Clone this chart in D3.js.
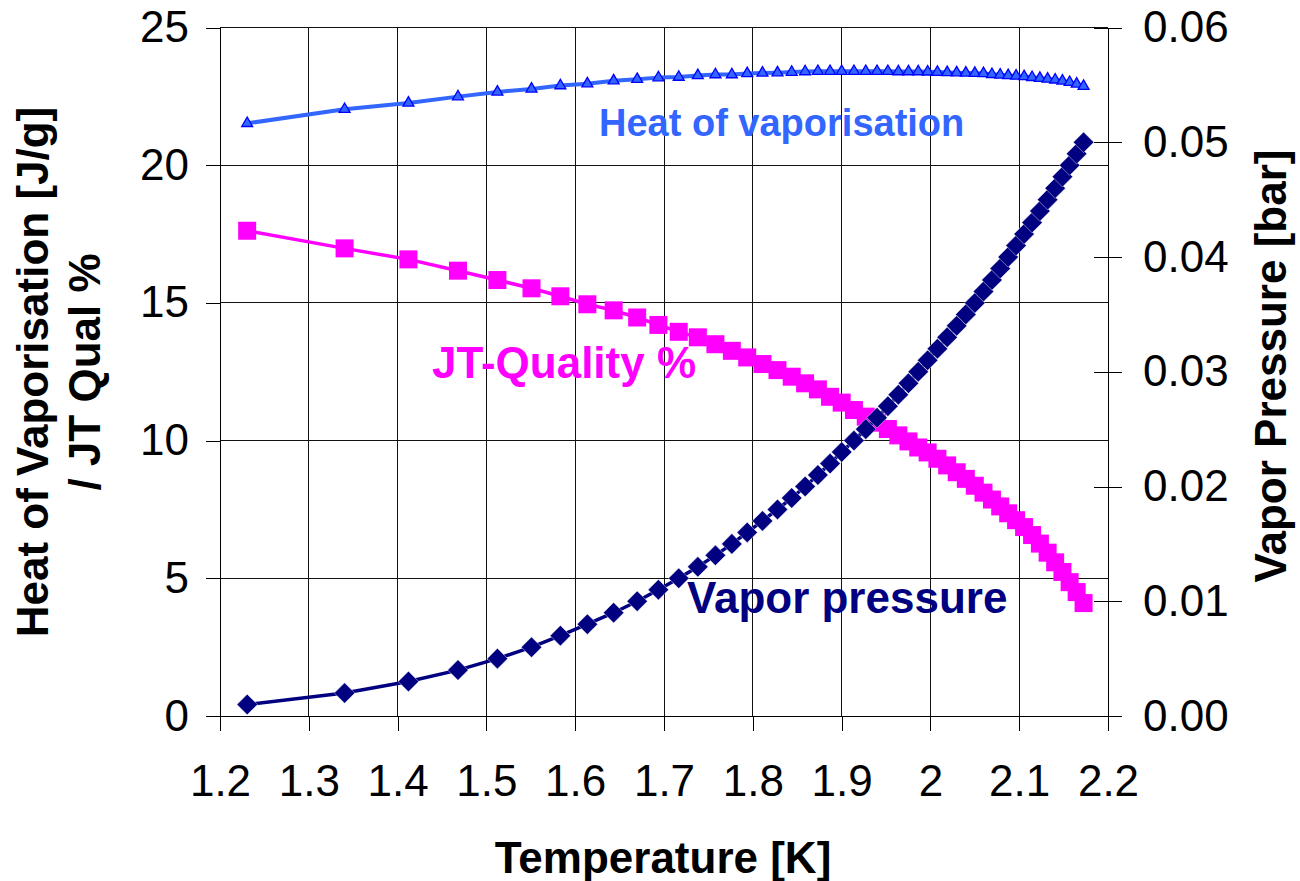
<!DOCTYPE html>
<html>
<head>
<meta charset="utf-8">
<script src="https://cdn.jsdelivr.net/npm/d3@7"></script>
<style>
  html, body { margin: 0; padding: 0; background: #fff; }
  svg { display: block; }
  text { font-family: "Liberation Sans", Arial, Helvetica, sans-serif; }
</style>
</head>
<body>
<script>
// Saturated liquid helium-4: temperature [K] at each vapour-pressure step
const temperature = [1.2306, 1.3403, 1.4122, 1.4680, 1.5124, 1.5508, 1.5833, 1.6137, 1.6433, 1.6698,
  1.6937, 1.7166, 1.7381, 1.7579, 1.7764, 1.7937, 1.8109, 1.8278, 1.8438, 1.8589,
  1.8733, 1.8870, 1.9001, 1.9139, 1.9272, 1.9399, 1.9521, 1.9639, 1.9753, 1.9863,
  1.9969, 2.0079, 2.0189, 2.0296, 2.0399, 2.0500, 2.0598, 2.0693, 2.0786, 2.0876,
  2.0965, 2.1055, 2.1145, 2.1233, 2.1320, 2.1405, 2.1487, 2.1568, 2.1647, 2.1725];

// Vapour pressure [bar] (right axis)
const vaporPressure = [0.001, 0.002, 0.003, 0.004, 0.005, 0.006, 0.007, 0.008, 0.009, 0.010,
  0.011, 0.012, 0.013, 0.014, 0.015, 0.016, 0.017, 0.018, 0.019, 0.020,
  0.021, 0.022, 0.023, 0.024, 0.025, 0.026, 0.027, 0.028, 0.029, 0.030,
  0.031, 0.032, 0.033, 0.034, 0.035, 0.036, 0.037, 0.038, 0.039, 0.040,
  0.041, 0.042, 0.043, 0.044, 0.045, 0.046, 0.047, 0.048, 0.049, 0.050];

// Heat of vaporisation [J/g] (left axis)
const heatOfVaporisation = [21.52, 22.03, 22.26, 22.49, 22.66, 22.77, 22.89, 22.96, 23.07, 23.12,
  23.18, 23.20, 23.26, 23.29, 23.29, 23.33, 23.35, 23.36, 23.38, 23.40,
  23.41, 23.41, 23.41, 23.41, 23.41, 23.41, 23.41, 23.40, 23.40, 23.40,
  23.39, 23.38, 23.37, 23.36, 23.35, 23.34, 23.33, 23.30, 23.28, 23.26,
  23.24, 23.22, 23.19, 23.16, 23.13, 23.10, 23.06, 23.01, 22.95, 22.87];

// Joule-Thomson expansion quality [%] (left axis)
const jtQuality = [17.62, 16.98, 16.58, 16.17, 15.83, 15.53, 15.24, 14.95, 14.73, 14.47,
  14.20, 13.95, 13.75, 13.50, 13.26, 13.02, 12.78, 12.56, 12.32, 12.08,
  11.86, 11.59, 11.38, 11.11, 10.87, 10.65, 10.42, 10.19, 9.97, 9.75,
  9.57, 9.34, 9.10, 8.85, 8.61, 8.36, 8.11, 7.86, 7.61, 7.36,
  7.11, 6.86, 6.57, 6.26, 5.93, 5.58, 5.23, 4.86, 4.50, 4.10];

// Axis ticks and labels
const xTicks = [1.2, 1.3, 1.4, 1.5, 1.6, 1.7, 1.8, 1.9, 2.0, 2.1, 2.2];
const xTickLabels = ["1.2", "1.3", "1.4", "1.5", "1.6", "1.7", "1.8", "1.9", "2", "2.1", "2.2"];
const leftTicks = [0, 5, 10, 15, 20, 25];
const rightTicks = [0, 0.01, 0.02, 0.03, 0.04, 0.05, 0.06];
const rightTickLabels = ["0.00", "0.01", "0.02", "0.03", "0.04", "0.05", "0.06"];

const W = 1300, H = 881;
const plot = { left: 220, right: 1108, top: 27.5, bottom: 716 };

const svg = d3.select("body").append("svg").attr("width", W).attr("height", H);

const x = d3.scaleLinear().domain([1.2, 2.2]).range([plot.left, plot.right]);
const yL = d3.scaleLinear().domain([0, 25]).range([plot.bottom, plot.top]);
const yR = d3.scaleLinear().domain([0, 0.06]).range([plot.bottom, plot.top]);

// gridlines
const grid = svg.append("g").attr("shape-rendering", "crispEdges");
grid.selectAll("line.v").data(xTicks.slice(1, -1)).join("line")
  .attr("x1", d => x(d)).attr("x2", d => x(d))
  .attr("y1", yL(25)).attr("y2", yL(0))
  .attr("stroke", "#111").attr("stroke-width", 1);
grid.selectAll("line.h").data(leftTicks.slice(1)).join("line")
  .attr("x1", plot.left).attr("x2", plot.right)
  .attr("y1", d => yL(d)).attr("y2", d => yL(d))
  .attr("stroke", "#111").attr("stroke-width", 1);

const tickFont = 44;

// bottom axis
const gx = svg.append("g").attr("transform", `translate(0,${plot.bottom})`)
  .call(d3.axisBottom(x).tickValues(xTicks)
    .tickFormat((d, i) => xTickLabels[i])
    .tickSize(15).tickSizeOuter(0).tickPadding(34));
// left axis
const gl = svg.append("g").attr("transform", `translate(${plot.left},0)`)
  .call(d3.axisLeft(yL).tickValues(leftTicks)
    .tickSize(14).tickSizeOuter(0).tickPadding(17));
// right axis, cross ticks
const gr = svg.append("g").attr("transform", `translate(${plot.right},0)`)
  .call(d3.axisRight(yR).tickValues(rightTicks)
    .tickFormat((d, i) => rightTickLabels[i])
    .tickSize(14).tickSizeOuter(0).tickPadding(21));
gr.selectAll(".tick line").attr("x1", -14);

[gx, gl, gr].forEach(g => {
  g.attr("shape-rendering", "crispEdges");
  g.select(".domain").attr("stroke", "#000").attr("stroke-width", 1.5);
  g.selectAll(".tick line").attr("stroke", "#000").attr("stroke-width", 1);
  g.selectAll(".tick text")
    .attr("fill", "#000")
    .style("font-family", '"Liberation Sans", Arial, sans-serif')
    .style("font-size", tickFont + "px");
});

// series
const rows = temperature.map((t, i) => ({
  t, p: vaporPressure[i], hov: heatOfVaporisation[i], jt: jtQuality[i]
}));

const clr = { hov: "#3366FF", hovEdge: "#0000FF", jt: "#FF00FF", vp: "#000080" };

// heat of vaporisation
svg.append("path").datum(rows)
  .attr("fill", "none").attr("stroke", clr.hov).attr("stroke-width", 4)
  .attr("stroke-linejoin", "round")
  .attr("d", d3.line().x(d => x(d.t)).y(d => yL(d.hov)));
svg.append("g").selectAll("path").data(rows).join("path")
  .attr("transform", d => `translate(${x(d.t)},${yL(d.hov)})`)
  .attr("d", d3.symbol(d3.symbolTriangle, 52))
  .attr("fill", clr.hov).attr("stroke", clr.hovEdge).attr("stroke-width", 1.3);

// JT quality
svg.append("path").datum(rows)
  .attr("fill", "none").attr("stroke", clr.jt).attr("stroke-width", 3.5)
  .attr("stroke-linejoin", "round")
  .attr("d", d3.line().x(d => x(d.t)).y(d => yL(d.jt)));
svg.append("g").selectAll("path").data(rows).join("path")
  .attr("transform", d => `translate(${x(d.t)},${yL(d.jt)})`)
  .attr("d", d3.symbol(d3.symbolSquare, 18 * 18))
  .attr("fill", clr.jt);

// vapour pressure
svg.append("path").datum(rows)
  .attr("fill", "none").attr("stroke", clr.vp).attr("stroke-width", 3.5)
  .attr("stroke-linejoin", "round")
  .attr("d", d3.line().x(d => x(d.t)).y(d => yR(d.p)));
svg.append("g").selectAll("path").data(rows).join("path")
  .attr("transform", d => `translate(${x(d.t)},${yR(d.p)}) rotate(45)`)
  .attr("d", d3.symbol(d3.symbolSquare, 14.5 * 14.5))
  .attr("fill", clr.vp).attr("stroke", "#fff").attr("stroke-width", 0.4);

// series labels
const label = (txt, px, py, size, fill) => svg.append("text")
  .attr("x", px).attr("y", py).attr("fill", fill)
  .style("font-size", size + "px").style("font-weight", "bold").text(txt);
label("Heat of vaporisation", 599, 135.5, 38, clr.hov);
label("JT-Quality %", 432, 378, 44, clr.jt);
label("Vapor pressure", 687, 613, 44, clr.vp);

// axis titles
svg.append("text").attr("x", 663).attr("y", 873).attr("text-anchor", "middle")
  .style("font-size", "44px").style("font-weight", "bold").text("Temperature [K]");

const leftTitle = svg.append("text")
  .attr("transform", "translate(0,372) rotate(-90)")
  .attr("text-anchor", "middle")
  .style("font-size", "44px").style("font-weight", "bold");
leftTitle.append("tspan").attr("x", 0).attr("y", 48).text("Heat of Vaporisation [J/g]");
leftTitle.append("tspan").attr("x", 0).attr("y", 100).text("/ JT Qual %");

svg.append("text")
  .attr("transform", "translate(1286,366) rotate(-90)")
  .attr("text-anchor", "middle")
  .style("font-size", "44px").style("font-weight", "bold").text("Vapor Pressure [bar]");
</script>
</body>
</html>
